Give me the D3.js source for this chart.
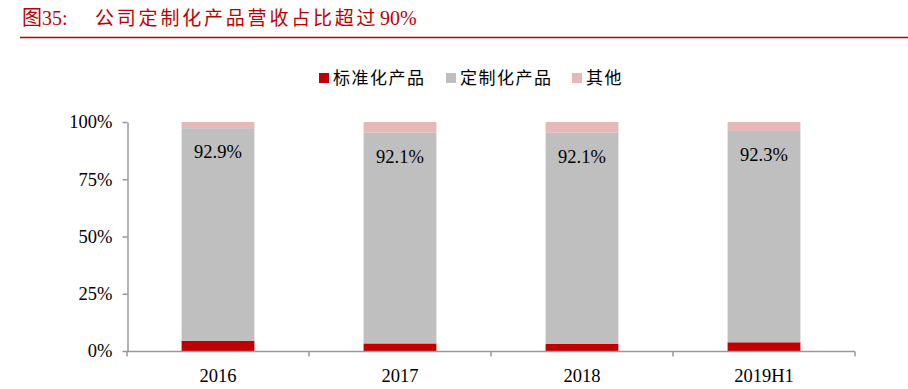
<!DOCTYPE html>
<html>
<head>
<meta charset="utf-8">
<script src="https://cdn.jsdelivr.net/npm/d3@7"></script>
<style>
  body { margin: 0; background: #fff; }
  svg text { font-family: "Liberation Serif", "Noto Sans CJK SC", serif; }
</style>
</head>
<body>
<div id="chart"></div>
<script>
// data
var categories = ['2016', '2017', '2018', '2019H1'];
var standardShare = [4.4, 3.3, 3.2, 3.8];
var customShare = [92.9, 92.1, 92.1, 92.3];
var otherShare = [2.7, 4.6, 4.7, 3.9];
var seriesNames = ['标准化产品', '定制化产品', '其他'];
var yTicks = [0, 25, 50, 75, 100];

var width = 908, height = 389;
var colors = ['#c00000', '#bfbfbf', '#e6b8b7'];

var svg = d3.select('#chart').append('svg')
    .attr('width', width)
    .attr('height', height);

// title
svg.append('text')
    .attr('x', 22).attr('y', 25)
    .attr('fill', '#c00000')
    .style('font-size', '20px')
    .text('图35:');
svg.append('text')
    .attr('x', 95).attr('y', 25)
    .attr('fill', '#c00000')
    .style('font-size', '19px')
    .style('font-family', '"Noto Sans CJK SC", sans-serif')
    .style('letter-spacing', '2.8px')
    .text('公司定制化产品营收占比超过');
svg.append('text')
    .attr('x', 380).attr('y', 25)
    .attr('fill', '#c00000')
    .style('font-size', '20px')
    .text('90%');
svg.append('line')
    .attr('x1', 20).attr('x2', 908)
    .attr('y1', 37.5).attr('y2', 37.5)
    .attr('stroke', '#c00000')
    .attr('stroke-width', 1.5);

// scales
var x = d3.scaleBand().domain(categories).range([127, 855]).paddingInner(0.6).paddingOuter(0.3);
var y = d3.scaleLinear().domain([0, 100]).range([351, 122]);

var rows = categories.map(function (c, i) {
    return { cat: c, standard: standardShare[i], custom: customShare[i], other: otherShare[i] };
});
var stack = d3.stack().keys(['standard', 'custom', 'other'])(rows);

svg.append('g').selectAll('g')
    .data(stack)
    .enter().append('g')
    .attr('fill', function (d, i) { return colors[i]; })
    .selectAll('rect')
    .data(function (d) { return d; })
    .enter().append('rect')
    .attr('x', function (d) { return x(d.data.cat); })
    .attr('width', x.bandwidth())
    .attr('y', function (d) { return y(d[1]); })
    .attr('height', function (d) { return y(d[0]) - y(d[1]); });

// value labels for custom share
svg.append('g').selectAll('text')
    .data(rows)
    .enter().append('text')
    .attr('x', function (d) { return x(d.cat) + x.bandwidth() / 2; })
    .attr('y', function (d) { return y(d.standard + d.custom) + 30; })
    .attr('text-anchor', 'middle')
    .style('font-size', '18.5px')
    .attr('fill', '#000')
    .text(function (d) { return d.custom.toFixed(1) + '%'; });

// y axis
var yAxis = svg.append('g')
    .attr('transform', 'translate(127.5,0)')
    .call(d3.axisLeft(y).tickValues(yTicks).tickSize(5).tickSizeOuter(0)
        .tickFormat(function (d) { return d + '%'; }));
yAxis.select('.domain').attr('stroke', '#999').attr('stroke-width', 1.5);
yAxis.selectAll('.tick line').attr('stroke', '#999').attr('stroke-width', 1.5);
yAxis.selectAll('.tick text').attr('x', -15).attr('fill', '#000')
    .style('font-size', '18.5px').style('font-family', '"Liberation Serif", serif');

// x axis with boundary ticks
var xAxisG = svg.append('g').attr('transform', 'translate(0,351.5)');
xAxisG.append('line')
    .attr('x1', 127).attr('x2', 855)
    .attr('stroke', '#999').attr('stroke-width', 1.5);
var step = x.step();
var bounds = d3.range(categories.length + 1).map(function (i) { return 127 + i * step; });
xAxisG.selectAll('.bt')
    .data(bounds)
    .enter().append('line')
    .attr('class', 'bt')
    .attr('x1', function (d) { return d; }).attr('x2', function (d) { return d; })
    .attr('y1', 0).attr('y2', 5)
    .attr('stroke', '#999').attr('stroke-width', 1.5);
xAxisG.selectAll('.xl')
    .data(categories)
    .enter().append('text')
    .attr('class', 'xl')
    .attr('x', function (d) { return x(d) + x.bandwidth() / 2; })
    .attr('y', 30)
    .attr('text-anchor', 'middle')
    .style('font-size', '18.5px')
    .attr('fill', '#000')
    .text(function (d) { return d; });

// legend
var legendX = [319, 446, 572];
var legend = svg.append('g').selectAll('g')
    .data(seriesNames)
    .enter().append('g')
    .attr('transform', function (d, i) { return 'translate(' + legendX[i] + ',73)'; });
legend.append('rect')
    .attr('width', 10).attr('height', 10)
    .attr('fill', function (d, i) { return colors[i]; });
legend.append('text')
    .attr('x', 14).attr('y', 11)
    .style('font-size', '17px')
    .style('font-family', '"Noto Sans CJK SC", sans-serif')
    .style('letter-spacing', '1.5px')
    .attr('fill', '#000')
    .text(function (d) { return d; });
</script>
</body>
</html>
